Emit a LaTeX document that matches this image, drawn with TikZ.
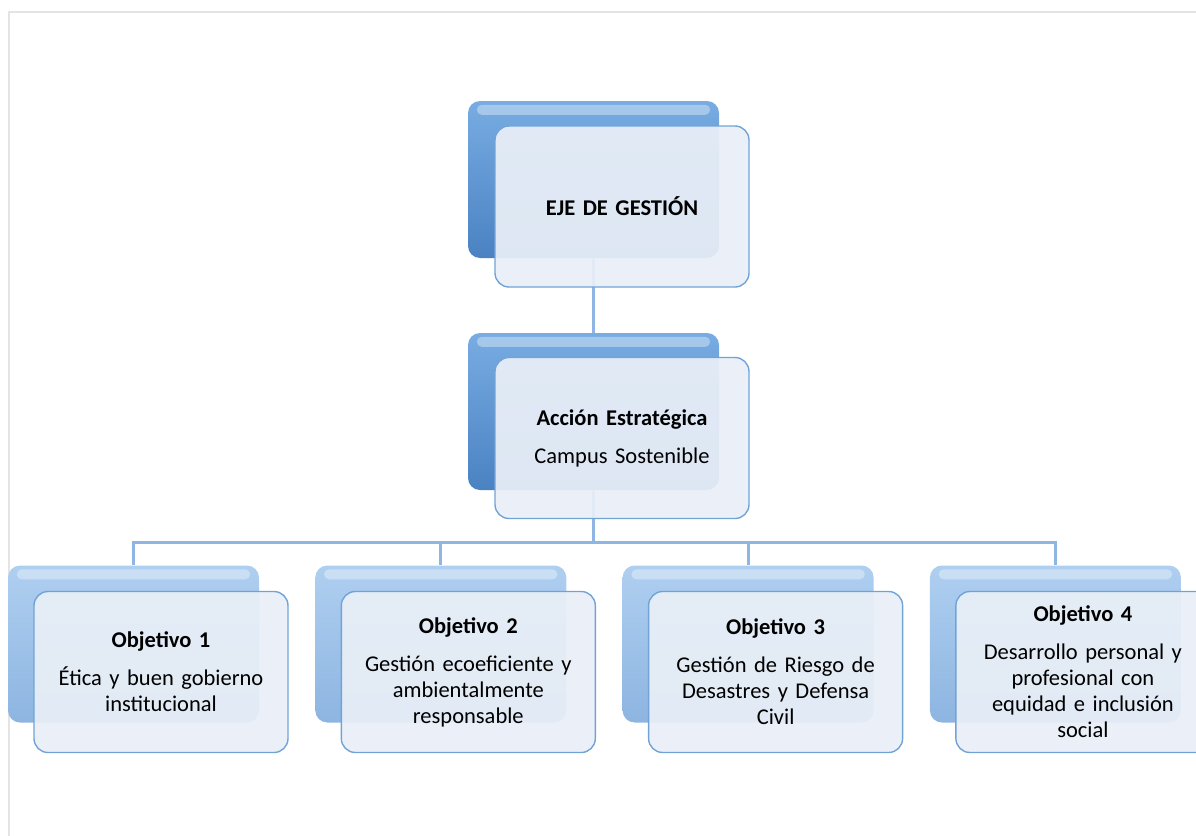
\documentclass[tikz,border=0pt]{standalone}
\usepackage{fontspec}
\setmainfont{Carlito}
\usetikzlibrary{backgrounds}

\definecolor{darktop}{HTML}{78ACE2}
\definecolor{darkbot}{HTML}{4A82C2}
\definecolor{lighttop}{HTML}{AFCFF0}
\definecolor{lightbot}{HTML}{8DB5E1}
\definecolor{frontfill}{HTML}{E9EFF7}
\definecolor{frontline}{HTML}{72A3D7}
\definecolor{linkblue}{HTML}{8FB5E2}
\definecolor{framegray}{HTML}{E4E4E4}

\tikzset{
    backbox/.style={rounded corners=12pt, minimum width=251pt, minimum height=157pt, inner sep=0pt},
    darkbox/.style={backbox, top color=darktop, bottom color=darkbot},
    lightbox/.style={backbox, top color=lighttop, bottom color=lightbot},
    frontbox/.style={rounded corners=14pt, draw=frontline, line width=1.4pt, fill=frontfill,
        fill opacity=0.93, text opacity=1, minimum width=254pt, minimum height=161pt,
        text width=244pt, align=center, font=\fontsize{22.5}{26}\selectfont},
    gloss/.style={white, opacity=0.35, rounded corners=5pt},
    link/.style={draw=linkblue, line width=3pt},
}

\begin{document}
\begin{tikzpicture}[x=1pt, y=-1pt]
        \useasboundingbox (0,0) rectangle (1196,835);
        \clip (0,0) rectangle (1196,835);
        \draw[framegray, line width=2pt] (9,900) -- (9,12) -- (1300,12);

        \node[darkbox] (ejeback) at (593.5,179.5) {};
        \node[darkbox] (accback) at (593.5,411.5) {};
        \foreach \i in {1,...,4} {
            \node[lightbox] (obj\i back) at (133.5+307.3*\i-307.3,644) {};
        }

        \foreach \n in {eje,acc,obj1,obj2,obj3,obj4} {
            \fill[gloss] ([xshift=9pt,yshift=-4pt]\n back.north west) rectangle ([xshift=-9pt,yshift=-14pt]\n back.north east);
        }

        \node[frontbox] (eje) at (622,206.5) {\textbf{EJE DE GESTIÓN}};
        \node[frontbox] (acc) at (622,438) {\textbf{Acción Estratégica}\\[12pt]Campus Sostenible};

        \foreach \i/\txt in {1/{Ética y buen gobierno\\institucional},
                             2/{Gestión ecoeficiente y\\ambientalmente\\responsable},
                             3/{Gestión de Riesgo de\\Desastres y Defensa\\Civil},
                             4/{Desarrollo personal y\\profesional con\\equidad e inclusión\\social}} {
            \node[frontbox] (obj\i) at (161+307.3*\i-307.3,672) {\textbf{Objetivo \i}\\[12pt]\txt};
        }

        \coordinate (split) at (593.5,542);
        \begin{scope}[on background layer]
            \draw[link] (ejeback.south) -- (accback.north);
            \draw[link] (accback.south) -- (split);
            \foreach \i in {1,...,4} {
                \draw[link] (split) -| (obj\i back.north);
            }
        \end{scope}
\end{tikzpicture}
\end{document}
